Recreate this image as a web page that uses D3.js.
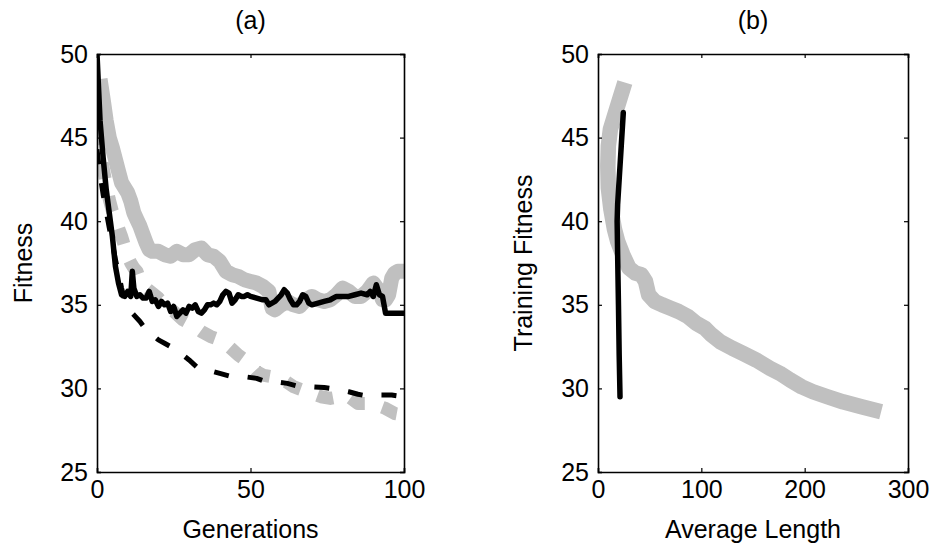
<!DOCTYPE html>
<html>
<head>
<meta charset="utf-8">
<script src="https://cdn.jsdelivr.net/npm/d3@7/dist/d3.min.js"></script>
<style>
  html, body { margin: 0; padding: 0; background: #fff; }
  svg text { font-family: "Liberation Sans", Arial, Helvetica, sans-serif; fill: #000; }
</style>
</head>
<body>
<svg id="chart" width="933" height="552"></svg>
<script>
// ---------- DATA ----------
// Panel (a): Fitness vs Generations
const graySolidGen = [1,2,3,4,5,6,7,8,9,10,11,12,13,14,15,16,17,18,20,22,24,26,28,30,32,34,36,38,40,42,44,46,48,50,52,54,56,57,58,60,62,64,66,68,70,72,74,76,78,80,82,84,86,88,90,92,93,94,95,96,97,98,100];
const graySolidFit = [48.5,47.3,46.0,45.0,44.4,43.7,43.0,42.3,42.0,41.7,41.2,40.5,40.1,39.7,39.2,38.7,38.3,38.2,38.2,38.0,37.9,38.2,38.0,38.0,38.3,38.4,38.0,37.9,37.6,37.0,36.8,36.7,36.5,36.4,36.3,36.1,35.8,34.8,34.7,35.0,35.2,35.0,34.9,35.3,35.5,35.3,35.2,35.3,35.6,36.0,35.8,35.5,35.5,35.8,36.3,35.8,35.3,35.3,35.6,36.6,36.9,37.0,37.0];

const blackSolidGen = [0,1,2,3,4,5,6,7,8,9,10,11,11.5,12,13,14,15,16,17,18,19,20,21,22,23,24,25,26,27,28,29,30,31,32,33,34,35,36,37,38,39,40,41,42,43,44,45,46,47,48,49,50,52,54,55,56,58,60,61,62,63,64,65,66,67,68,69,70,72,74,76,78,80,82,84,86,88,89,90,91,92,93,94,96,100];
const blackSolidFit = [50,46,43.8,41.9,40.5,39.1,37.3,36.3,35.6,35.5,35.8,35.5,37.0,36.0,35.5,35.6,35.4,35.4,35.8,35.2,35.3,34.9,35.2,35.0,35.1,34.6,34.9,34.3,34.5,34.7,34.5,34.9,34.8,35.0,34.6,34.5,34.7,35.0,35.0,35.1,35.0,35.2,35.6,35.8,35.7,35.1,35.3,35.6,35.5,35.5,35.6,35.5,35.4,35.3,35.3,35.0,35.2,35.6,35.9,35.7,35.3,35.0,35.0,35.2,35.6,35.5,35.1,35.0,35.1,35.2,35.3,35.5,35.5,35.5,35.6,35.7,35.6,35.8,35.5,36.2,35.6,35.5,34.5,34.5,34.5];

const grayDashGen = [0,1,2,3,4,5,6,7,8,9,10,11,12,13,14,16,18,20,22,25,28,31,34,37,40,43,46,49,52,54,57,60,64,67,70,73,76,79,82,85,88,91,94,97,100];
const grayDashFit = [45.5,44.3,43.2,42.2,41.3,40.6,40.1,39.6,39.1,38.5,37.9,37.5,37.2,37.0,36.5,36.0,35.7,35.4,35.0,34.6,34.1,33.8,33.4,33.1,32.9,32.5,32.0,31.6,31.0,30.8,30.7,30.6,30.1,29.9,29.7,29.5,29.4,29.5,29.5,29.1,29.1,29.0,28.8,28.5,28.4];

const blackDashGen = [0,1,2,3,4,5,6,7,8,9,10,12,14,16,18,20,22,25,28,30,33,36,40,44,48,52,55,58,62,66,70,74,78,82,85,88,92,96,100];
const blackDashFit = [44.3,42.8,41.6,40.6,39.6,38.7,37.7,36.9,36.0,35.3,34.8,34.4,34.0,33.5,33.2,32.9,32.7,32.4,32.0,31.7,31.2,31.1,30.9,30.7,30.7,30.6,30.4,30.4,30.3,30.1,30.1,30.05,29.95,29.8,29.65,29.55,29.6,29.6,29.5];

// Panel (b): Training Fitness vs Average Length
const grayLenB = [26,21,16,12,10,9.5,10,12.5,16,19,24,30,36,42,46,49,55,62,70,78,87,95,103.5,110,118,130,140,153,166.5,176,186,197,208,222,237,255,274];
const grayFitB = [48.3,47.3,46.3,45.5,44.5,43.3,42.0,40.7,39.5,38.8,38.0,37.2,36.9,36.8,36.4,35.6,35.2,35.0,34.8,34.6,34.3,33.9,33.6,33.2,32.8,32.4,32.1,31.7,31.2,30.9,30.5,30.1,29.8,29.5,29.2,28.9,28.6];

const blackLenB = [24.5,22.5,20.5,19,18.5,19,19.8,20.5,21.3];
const blackFitB = [46.5,44.5,42.5,41,40,38,35,32,29.5];

// Ticks and labels
const yTicks = [25,30,35,40,45,50];
const xTicksA = [0,50,100];
const xTicksB = [0,100,200,300];
const titles = ["(a)", "(b)"];
const xLabels = ["Generations", "Average Length"];
const yLabels = ["Fitness", "Training Fitness"];

// ---------- DRAW ----------
const svg = d3.select("#chart");
const plotTop = 54, plotBottom = 472;
const panels = [
  { left: 97, right: 404, xDomain: [0,100], xTicks: xTicksA, title: titles[0], xLabel: xLabels[0], yLabel: yLabels[0], ylx: 32,
    series: [
      { x: graySolidGen, y: graySolidFit, color: "#c0c0c0", w: 15, dash: null },
      { x: grayDashGen, y: grayDashFit, color: "#c0c0c0", w: 13, dash: "16,18" },
      { x: blackDashGen, y: blackDashFit, color: "#000", w: 5, dash: "15,19" },
      { x: blackSolidGen, y: blackSolidFit, color: "#000", w: 5.5, dash: null }
    ] },
  { left: 598, right: 908, xDomain: [0,300], xTicks: xTicksB, title: titles[1], xLabel: xLabels[1], yLabel: yLabels[1], ylx: 532,
    series: [
      { x: grayLenB, y: grayFitB, color: "#c0c0c0", w: 15.5, dash: null },
      { x: blackLenB, y: blackFitB, color: "#000", w: 5.5, dash: null, cap: "round" }
    ] }
];

const fontSize = 25;

panels.forEach((p, i) => {
  const x = d3.scaleLinear().domain(p.xDomain).range([p.left, p.right]);
  const y = d3.scaleLinear().domain([25, 50]).range([plotBottom, plotTop]);
  const g = svg.append("g");

  const clipId = "clip" + i;
  svg.append("clipPath").attr("id", clipId)
    .append("rect").attr("x", p.left).attr("y", plotTop)
    .attr("width", p.right - p.left).attr("height", plotBottom - plotTop);

  const plot = g.append("g").attr("clip-path", `url(#${clipId})`);
  p.series.forEach(s => {
    const pts = s.x.map((v, k) => [v, s.y[k]]);
    const line = d3.line().x(d => x(d[0])).y(d => y(d[1]));
    plot.append("path").datum(pts)
      .attr("d", line)
      .attr("fill", "none")
      .attr("stroke", s.color)
      .attr("stroke-width", s.w)
      .attr("stroke-linejoin", "round")
      .attr("stroke-linecap", s.cap || "butt")
      .attr("stroke-dasharray", s.dash);
  });

  const tl = -4; // inward ticks
  const axB = d3.axisBottom(x).tickValues(p.xTicks).tickSize(tl).tickPadding(10).tickFormat(d3.format("d"));
  const axT = d3.axisTop(x).tickValues(p.xTicks).tickSize(tl).tickFormat("");
  const axL = d3.axisLeft(y).tickValues(yTicks).tickSize(tl).tickPadding(13).tickFormat(d3.format("d"));
  const axR = d3.axisRight(y).tickValues(yTicks).tickSize(tl).tickFormat("");

  const gB = g.append("g").attr("transform", `translate(0,${plotBottom})`).call(axB);
  const gT = g.append("g").attr("transform", `translate(0,${plotTop})`).call(axT);
  const gL = g.append("g").attr("transform", `translate(${p.left},0)`).call(axL);
  const gR = g.append("g").attr("transform", `translate(${p.right},0)`).call(axR);
  [gB, gT, gL, gR].forEach(a => {
    a.select(".domain").attr("stroke", "#000").attr("stroke-width", 1.6);
    a.selectAll(".tick line").attr("stroke", "#000").attr("stroke-width", 1.2);
    a.selectAll("text").attr("font-size", fontSize).attr("font-family", "Liberation Sans, Arial, sans-serif").attr("fill", "#000");
  });
  gB.selectAll(".tick text").attr("dy", "0.71em").attr("y", 8);
  gL.selectAll(".tick text").attr("x", -9);

  const cx = (p.left + p.right) / 2;
  g.append("text").attr("x", cx).attr("y", 29).attr("text-anchor", "middle")
    .attr("font-size", fontSize).text(p.title);
  g.append("text").attr("x", cx).attr("y", 538).attr("text-anchor", "middle")
    .attr("font-size", fontSize).text(p.xLabel);
  g.append("text").attr("transform", `translate(${p.ylx},${(plotTop + plotBottom) / 2}) rotate(-90)`)
    .attr("text-anchor", "middle").attr("font-size", fontSize).text(p.yLabel);
});
</script>
</body>
</html>
